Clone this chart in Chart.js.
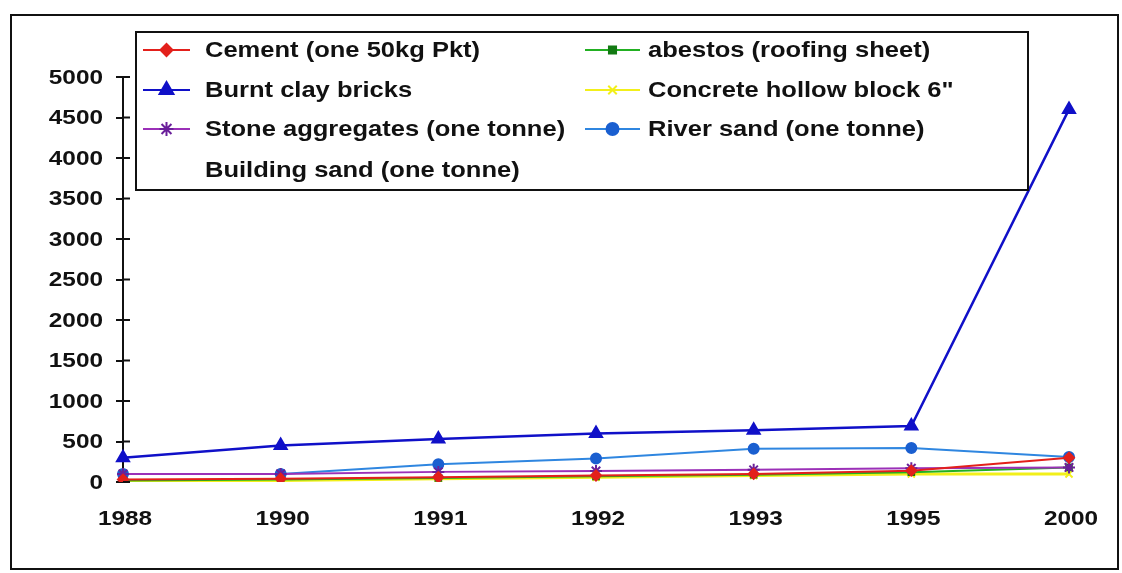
<!DOCTYPE html>
<html>
<head>
<meta charset="utf-8">
<script src="https://cdn.jsdelivr.net/npm/chart.js@4.4.1/dist/chart.umd.min.js"></script>
<style>
  html, body { margin: 0; padding: 0; background: #fff; }
  #wrap { position: relative; width: 1122px; height: 573px; }
  canvas { display: block; }
</style>
</head>
<body>
<div id="wrap"><canvas id="c" width="1122" height="573"></canvas></div>
<script>
// Building material prices by year
const years = ['1988', '1990', '1991', '1992', '1993', '1995', '2000'];

const cement       = [30, 40, 60, 80, 100, 140, 300];
const burntBricks  = [300, 450, 530, 600, 640, 690, 4600];
const stoneAggr    = [100, 100, 125, 135, 150, 170, 180];
const buildingSand = [20, 30, 50, 70, 90, 110, 160];
const abestos      = [20, 30, 50, 70, 90, 120, 180];
const hollowBlock  = [10, 20, 40, 60, 80, 100, 100];
const riverSand    = [100, 100, 220, 290, 410, 420, 310];

const yTicks = [0, 500, 1000, 1500, 2000, 2500, 3000, 3500, 4000, 4500, 5000];

const FONT = "'Liberation Sans', Arial, sans-serif";
const WIDE = 1.16; // text is set slightly wide

function series(label, data, color, pointStyle, radius, pointColor, width) {
  return {
    label,
    data,
    borderColor: color,
    backgroundColor: pointColor || color,
    pointBackgroundColor: pointColor || color,
    pointBorderColor: pointColor || color,
    pointStyle,
    pointRadius: radius,
    pointBorderWidth: 2,
    borderWidth: width || 2,
    tension: 0
  };
}

const datasets = [
  series('Cement (one 50kg Pkt)', cement, '#e3201b', 'rectRot', 5),
  series('Burnt clay bricks', burntBricks, '#1010c8', 'triangle', 7, null, 2.5),
  series('Stone aggregates (one tonne)', stoneAggr, '#9b30b8', 'star', 6, '#6a1f9a'),
  Object.assign(series('Building sand (one tonne)', buildingSand, 'rgba(0,0,0,0)', false, 0), { showLine: false }),
  series('abestos (roofing sheet)', abestos, '#22b022', 'rect', 4, '#137a13'),
  series('Concrete hollow block 6"', hollowBlock, '#f2ef1a', 'crossRot', 5, null, 3),
  series('River sand (one tonne)', riverSand, '#2f86e0', 'circle', 5, '#1a5fd0')
];

function wideText(ctx, text, x, y, align) {
  ctx.save();
  ctx.translate(x, y);
  ctx.scale(WIDE, 1);
  ctx.textAlign = align;
  ctx.fillText(text, 0, 0);
  ctx.restore();
}

// boxed two-column legend drawn over the plot
const boxLegend = {
  id: 'boxLegend',
  afterDatasetsDraw(chart) {
    const { ctx } = chart;
    ctx.save();
    ctx.fillStyle = '#fff';
    ctx.fillRect(136, 32, 892, 158);
    ctx.strokeStyle = '#111';
    ctx.lineWidth = 2;
    ctx.strokeRect(136, 32, 892, 158);

    const rows = [50, 90, 129, 170];
    const cols = [
      { x0: 143, x1: 190, text: 205 },
      { x0: 585, x1: 640, text: 648 }
    ];
    ctx.font = 'bold 22px ' + FONT;
    ctx.textBaseline = 'middle';
    chart.data.datasets.forEach((ds, i) => {
      const col = cols[i < 4 ? 0 : 1];
      const y = rows[i % 4];
      if (ds.pointStyle) {
        ctx.strokeStyle = ds.borderColor;
        ctx.lineWidth = 2;
        ctx.beginPath();
        ctx.moveTo(col.x0, y);
        ctx.lineTo(col.x1, y);
        ctx.stroke();
        ctx.fillStyle = ds.pointBackgroundColor;
        ctx.strokeStyle = ds.pointBorderColor;
        Chart.helpers.drawPoint(ctx, {
          pointStyle: ds.pointStyle,
          radius: ds.pointRadius + 1,
          rotation: 0,
          borderWidth: 2
        }, (col.x0 + col.x1) / 2, y);
      }
      ctx.fillStyle = '#111';
      wideText(ctx, ds.label, col.text, y + 1, 'left');
    });
    ctx.restore();
  },
  afterDraw(chart) {
    const { ctx, scales } = chart;
    const y = scales.y;
    const x = scales.x;
    ctx.save();
    // inner half of the cross ticks on the value axis
    ctx.strokeStyle = '#111';
    ctx.lineWidth = 2;
    y.ticks.forEach((t) => {
      const py = y.getPixelForValue(t.value);
      ctx.beginPath();
      ctx.moveTo(y.right, py);
      ctx.lineTo(y.right + 7, py);
      ctx.stroke();
    });
    // axis labels
    ctx.fillStyle = '#111';
    ctx.font = 'bold 21px ' + FONT;
    ctx.textBaseline = 'middle';
    yTicks.forEach((v) => {
      wideText(ctx, String(v), 103, y.getPixelForValue(v) + 1, 'right');
    });
    years.forEach((lab, i) => {
      wideText(ctx, lab, x.getPixelForValue(i) + 2, 519, 'center');
    });
    // page frame
    ctx.strokeRect(11, 15, 1107, 554);
    ctx.restore();
  }
};

new Chart(document.getElementById('c'), {
  type: 'line',
  data: { labels: years, datasets },
  plugins: [boxLegend],
  options: {
    responsive: false,
    animation: false,
    layout: { padding: { left: 0, top: 77, right: 53, bottom: 0 } },
    scales: {
      x: {
        offset: false,
        grid: { display: false },
        border: { display: false },
        ticks: { display: false, autoSkip: false },
        afterFit: (s) => { s.height = 91; }
      },
      y: {
        min: 0,
        max: 5000,
        afterBuildTicks: (s) => { s.ticks = yTicks.map((v) => ({ value: v })); },
        grid: {
          drawOnChartArea: false,
          drawTicks: true,
          tickLength: 7,
          color: '#111',
          lineWidth: 2
        },
        border: { display: true, color: '#111', width: 2 },
        ticks: { display: false },
        afterFit: (s) => { s.width = 123; }
      }
    },
    plugins: {
      legend: { display: false },
      tooltip: { enabled: false }
    }
  }
});
</script>
</body>
</html>
